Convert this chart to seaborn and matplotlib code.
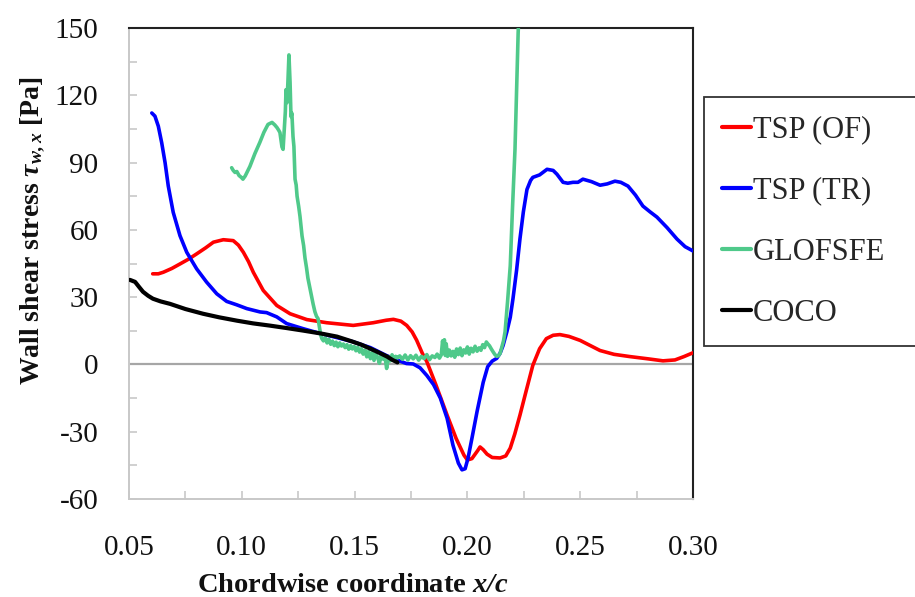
import matplotlib
matplotlib.use("Agg")
import matplotlib.pyplot as plt
import seaborn as sns
import pandas as pd
from matplotlib.ticker import MultipleLocator, FormatStrFormatter
from matplotlib.lines import Line2D

# ---------------- data ----------------
series_names = ["TSP (OF)", "TSP (TR)", "GLOFSFE", "COCO"]
series_colors = ["#FF0000", "#0000FF", "#4FC98A", "#000000"]

tsp_of_x = [0.0605, 0.0630, 0.0652, 0.0690, 0.0726, 0.0765, 0.0800, 0.0840, 0.0874, 0.0918,
            0.0962, 0.0985, 0.1007, 0.1030, 0.1051, 0.1095, 0.1155, 0.1214, 0.1288, 0.1376,
            0.1494, 0.1583, 0.1640, 0.1672, 0.1705, 0.1731, 0.1755, 0.1775, 0.180, 0.182,
            0.186, 0.191, 0.195, 0.1985, 0.200, 0.202, 0.2045, 0.2056, 0.207, 0.2087,
            0.211, 0.2145, 0.217, 0.219, 0.221, 0.2233, 0.226, 0.229, 0.232, 0.235,
            0.238, 0.241, 0.245, 0.250, 0.2588, 0.265, 0.272, 0.280, 0.2867, 0.292,
            0.296, 0.300]
tsp_of_y = [40.4, 40.4, 41.1, 42.8, 44.8, 47.0, 49.3, 52.0, 54.5, 55.6,
            55.2, 53.2, 50.0, 45.8, 41.1, 33.0, 26.3, 22.6, 20.0, 18.6,
            17.4, 18.6, 19.7, 20.1, 19.3, 17.4, 14.5, 10.8, 5.0, 1.3,
            -9.0, -22.6, -33.0, -40.5, -42.6, -42.0, -38.5, -36.8, -38.0, -40.0,
            -41.5, -41.7, -40.8, -37.3, -31.0, -22.6, -12.0, -0.4, 7.0, 11.5,
            13.0, 13.3, 12.5, 10.7, 6.2, 4.5, 3.5, 2.5, 1.6, 2.0,
            3.5, 5.2]

tsp_tr_x = [0.0601, 0.0615, 0.0630, 0.0645, 0.0660, 0.0674, 0.0696, 0.0726, 0.0756, 0.0800,
            0.0844, 0.0889, 0.0933, 0.0977, 0.1022, 0.1081, 0.1110, 0.1155, 0.1199, 0.127,
            0.1347, 0.142, 0.149, 0.157, 0.164, 0.170, 0.173, 0.176, 0.179, 0.182,
            0.185, 0.188, 0.191, 0.1936, 0.196, 0.1976, 0.199, 0.2003, 0.202, 0.2043,
            0.207, 0.209, 0.211, 0.213, 0.2145, 0.2158, 0.2175, 0.219, 0.2202, 0.2218,
            0.2233, 0.2248, 0.2264, 0.228, 0.229, 0.232, 0.2353, 0.238, 0.2397, 0.2424,
            0.2445, 0.2468, 0.249, 0.2512, 0.255, 0.2588, 0.262, 0.2654, 0.268, 0.2712,
            0.2745, 0.2778, 0.281, 0.284, 0.2885, 0.2929, 0.2965, 0.300]
tsp_tr_y = [112.1, 110.7, 106.2, 98.8, 89.9, 79.6, 67.8, 57.4, 50.0, 42.6,
            36.7, 31.5, 28.1, 26.6, 24.9, 23.4, 23.1, 21.2, 18.2, 16.0,
            13.8, 12.0, 10.2, 7.5, 4.0, 1.5, 0.4, 0.2, -1.5, -4.9,
            -9.0, -15.0, -24.0, -36.0, -44.0, -47.0, -46.5, -41.7, -33.0, -20.9,
            -8.0, -1.0, 1.5, 2.7, 5.0, 8.4, 14.6, 21.0, 29.3, 42.0,
            56.0, 68.0, 78.0, 82.0, 83.4, 84.5, 87.0, 86.5, 84.8, 81.2,
            80.8, 81.2, 81.2, 82.6, 81.5, 79.9, 80.5, 81.7, 81.2, 79.5,
            75.5, 70.6, 68.0, 65.7, 61.0, 55.9, 52.5, 50.6]

glofsfe_x = [0.0955, 0.0962, 0.0970, 0.0978, 0.0988, 0.0998, 0.1005, 0.1015, 0.1036, 0.1058,
             0.108, 0.1098, 0.1116, 0.1134, 0.1146, 0.1156, 0.1163, 0.1169, 0.1173, 0.1178,
             0.1183, 0.1188, 0.1193, 0.1196, 0.1200, 0.1204, 0.1209, 0.1212, 0.1214, 0.1218,
             0.1222, 0.1227, 0.1231, 0.1236, 0.1241, 0.1245, 0.1252, 0.1258, 0.1263, 0.1267,
             0.1274, 0.128, 0.1287, 0.1293, 0.130, 0.1308, 0.1316, 0.1324, 0.1331, 0.1338,
             0.1345, 0.1350, 0.1355, 0.1362, 0.1370, 0.1378, 0.1386, 0.1394, 0.1402, 0.1410,
             0.1418, 0.1426, 0.1434, 0.1442, 0.1450, 0.1458, 0.1466, 0.1474, 0.1482, 0.1490,
             0.1498, 0.1506, 0.1514, 0.1522, 0.1530, 0.1538, 0.1546, 0.1554, 0.1562, 0.1570,
             0.1578, 0.1586, 0.1594, 0.1602, 0.1610, 0.1618, 0.1626, 0.1634, 0.1642, 0.1650,
             0.1658, 0.1666, 0.1674, 0.1682, 0.1690, 0.1700, 0.1712, 0.1724, 0.1736, 0.1748,
             0.1760, 0.1772, 0.1784, 0.1796, 0.1808, 0.1820, 0.1832, 0.1844, 0.1856, 0.1866,
             0.1876, 0.1884, 0.1890, 0.1894, 0.1898, 0.1902, 0.1906, 0.1912, 0.1920, 0.1928,
             0.1936, 0.1944, 0.1952, 0.1960, 0.1968, 0.1976, 0.1984, 0.1992, 0.2000, 0.2008,
             0.2016, 0.2025, 0.2034, 0.2043, 0.2052, 0.2060, 0.2068, 0.2076, 0.2084, 0.2090,
             0.2098, 0.2106, 0.2114, 0.2122, 0.2130, 0.2138, 0.2145, 0.2152, 0.2160, 0.2167,
             0.2178, 0.219, 0.2200, 0.2211, 0.2218, 0.2225, 0.2232, 0.2240]
glofsfe_y = [87.7, 86.5, 85.6, 86.0, 84.2, 83.4, 82.6, 84.0, 88.3, 94.0,
             99.0, 103.5, 107.0, 107.9, 106.8, 105.6, 104.5, 103.4, 100.5, 97.0,
             95.9, 104.0, 112.7, 122.5, 116.7, 125.0, 138.0, 131.0, 125.6, 110.5,
             112.0, 101.6, 97.2, 82.6, 80.0, 75.0, 70.5, 66.0, 61.0, 57.3,
             53.0, 47.5, 43.0, 38.5, 35.0, 31.0, 27.0, 23.5, 21.5, 20.4,
             16.0, 13.0, 11.5, 10.5, 11.8, 9.6, 11.2, 9.0, 10.4, 8.4,
             9.9, 7.9, 9.6, 8.2, 9.1, 7.5, 8.8, 6.8, 8.4, 6.9,
             8.0, 6.1, 7.6, 5.5, 7.0, 4.6, 6.4, 3.4, 5.8, 2.6,
             5.2, 1.8, 4.6, 3.2, 0.5, 4.2, 2.4, 3.9, -1.8, 3.5,
             1.6, 4.3, 2.2, 3.6, 2.9, 3.8, 2.3, 4.2, 2.0, 3.9,
             2.5, 4.1, 1.9, 3.6, 2.6, 4.4, 2.1, 3.8, 3.1, 4.6,
             2.8, 4.2, 10.5, 6.0, 11.0, 4.0, 9.2, 3.6, 6.4, 3.8,
             5.8, 3.2, 6.9, 4.4, 7.3, 3.9, 6.5, 5.1, 7.8, 4.6,
             7.2, 5.6, 8.1, 5.9, 7.4, 6.3, 8.8, 7.5, 10.0, 9.2,
             8.3, 6.9, 5.6, 4.4, 3.6, 3.9, 4.9, 7.5, 10.5, 14.6,
             28.0, 44.0, 70.0, 96.0, 122.0, 148.0, 165.0, 180.0]

coco_x = [0.0504, 0.0527, 0.0545, 0.0562, 0.0585, 0.0606, 0.0640, 0.0682, 0.0750, 0.0828,
          0.0900, 0.0979, 0.1050, 0.1125, 0.1200, 0.1271, 0.1350, 0.1422, 0.1490, 0.1530,
          0.1568, 0.1605, 0.1644, 0.1668, 0.1690]
coco_y = [37.7, 36.8, 34.5, 32.4, 30.6, 29.3, 28.1, 27.0, 24.7, 22.6,
          21.0, 19.5, 18.3, 17.3, 16.2, 15.1, 13.8, 12.4, 10.2, 8.8,
          7.1, 5.4, 3.5, 2.0, 0.9]

x_ticks = [0.05, 0.10, 0.15, 0.20, 0.25, 0.30]
y_ticks = [-60, -30, 0, 30, 60, 90, 120, 150]

# ---------------- table ----------------
frames = []
for name, xs, ys in zip(series_names,
                        [tsp_of_x, tsp_tr_x, glofsfe_x, coco_x],
                        [tsp_of_y, tsp_tr_y, glofsfe_y, coco_y]):
    frames.append(pd.DataFrame({"x": xs, "y": ys, "series": name}))
df = pd.concat(frames, ignore_index=True)

# ---------------- style ----------------
sns.set_theme(style="white")
plt.rcParams["font.family"] = ["Liberation Serif", "DejaVu Serif"]
plt.rcParams["mathtext.fontset"] = "custom"
plt.rcParams["mathtext.rm"] = "Liberation Serif"
plt.rcParams["mathtext.it"] = "Liberation Serif:italic"
plt.rcParams["mathtext.bf"] = "Liberation Serif:bold:italic"

fig = plt.figure(figsize=(9.15, 5.97), dpi=100)
ax = fig.add_axes([129 / 915, 1 - 499 / 597, (693 - 129) / 915, (499 - 28) / 597])

ax.axhline(0, color="#a6a6a6", lw=1.6, zorder=1)

palette = dict(zip(series_names, series_colors))
sns.lineplot(data=df, x="x", y="y", hue="series", hue_order=series_names,
             palette=palette, sort=False, estimator=None,
             linewidth=2.6, legend=False, ax=ax, zorder=3)
for line in ax.get_lines()[1:]:
    c = matplotlib.colors.to_hex(line.get_color()).lower()
    if c == "#000000":
        line.set_linewidth(3.0)
        line.set_zorder(4)

ax.set_xlim(0.05, 0.30)
ax.set_ylim(-60, 150)
ax.set_xticks(x_ticks)
ax.set_yticks(y_ticks)
ax.xaxis.set_minor_locator(MultipleLocator(0.025))
ax.yaxis.set_minor_locator(MultipleLocator(15))
ax.xaxis.set_major_formatter(FormatStrFormatter("%.2f"))
ax.yaxis.set_major_formatter(FormatStrFormatter("%d"))

ax.tick_params(axis="both", which="both", direction="in", length=5.5, width=1.2,
               color="#c8c8c8", labelsize=21, labelcolor="#111111")
ax.tick_params(axis="y", which="both", pad=22, left=True)
ax.tick_params(axis="x", which="both", pad=26, bottom=True)

for side in ["left", "bottom"]:
    ax.spines[side].set_color("#c8c8c8")
    ax.spines[side].set_linewidth(1.4)
for side in ["top", "right"]:
    ax.spines[side].set_color("#222222")
    ax.spines[side].set_linewidth(1.5)
    ax.spines[side].set_visible(True)

ax.set_xlabel(r"Chordwise coordinate $\mathbf{x/c}$", fontsize=20.5, fontweight="bold",
              color="#111111")
ax.set_ylabel(r"Wall shear stress $\mathbf{\tau_{w,x}}$ [Pa]", fontsize=20, fontweight="bold",
              color="#111111")
ax.xaxis.set_label_coords(0.397, -0.158)
ax.yaxis.set_label_coords(-0.146, 0.569)

handles = [Line2D([0], [0], color=c, lw=3) for c in series_colors]
leg = fig.legend(handles, series_names, loc="upper left",
                 bbox_to_anchor=(704 / 915, 1 - 97 / 597, 0.3, 0), mode="expand",
                 bbox_transform=fig.transFigure, fontsize=22, frameon=True,
                 fancybox=False, shadow=False, handlelength=0.95, handletextpad=0.05,
                 labelspacing=1.05, borderpad=0.6, borderaxespad=0)
leg.get_frame().set_edgecolor("#333333")
leg.get_frame().set_linewidth(1.3)
leg.get_frame().set_alpha(1)

fig.savefig("out.png", dpi=100)
